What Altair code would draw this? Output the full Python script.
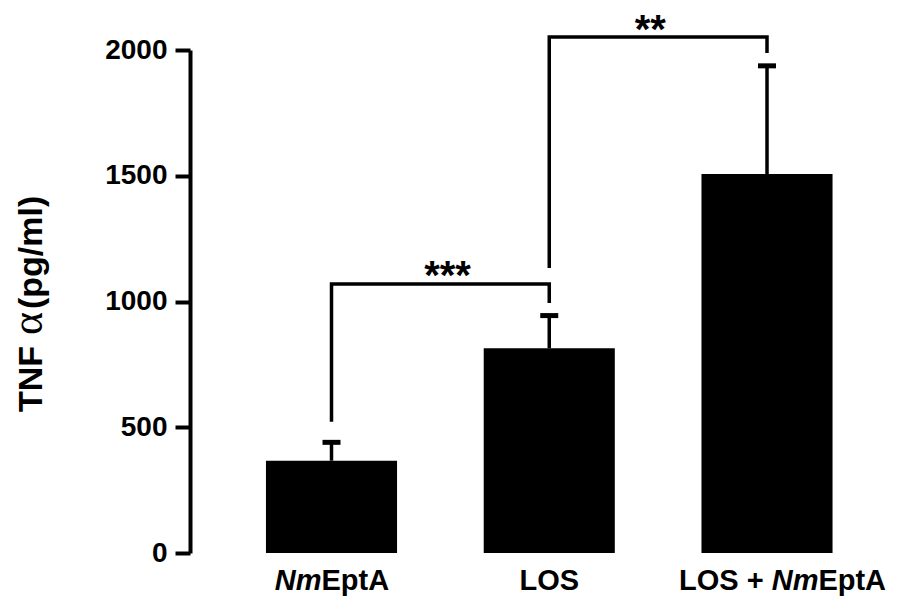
import altair as alt
import pandas as pd

# ---- data ----
groups = ["NmEptA", "LOS", "LOS + NmEptA"]
means = [367, 814, 1507]
upper = [440, 944, 1937]

br_id = [1, 1, 1, 1, 2, 2, 2, 2]
br_order = [0, 1, 2, 3, 0, 1, 2, 3]
br_group = ["NmEptA", "NmEptA", "LOS", "LOS", "LOS", "LOS", "LOS + NmEptA", "LOS + NmEptA"]
br_value = [522, 1070, 1070, 994, 1133, 2052, 2052, 1988]

star_text = ["***", "**"]
star_group = ["NmEptA", "LOS"]
star_value = [1048, 2028]

y_ticks = [0, 500, 1000, 1500, 2000]

W, H = 711, 503
FONT = "Liberation Sans"

bars_df = pd.DataFrame({"g": groups, "mean": means, "upper": upper})
br_df = pd.DataFrame({"id": br_id, "o": br_order, "g": br_group, "v": br_value})

xscale = alt.Scale(domain=groups, paddingInner=0.398, paddingOuter=0.3316, align=0.526)
yscale = alt.Scale(domain=[0, 2000], nice=False)

X = alt.X("g:N", scale=xscale, axis=alt.Axis(labels=False, ticks=False, title=None,
                                             domainColor="black", domainWidth=4.5))
Xn = alt.X("g:N", scale=xscale, axis=None)

bars = alt.Chart(bars_df).mark_bar(color="black").encode(
    x=X,
    y=alt.Y("mean:Q", scale=yscale, axis=alt.Axis(
        values=y_ticks, format="d", title=None, grid=False, domainColor="black", domainWidth=4,
        tickColor="black", tickWidth=4, tickSize=15, labelPadding=8,
        labelFont=FONT, labelFontSize=28, labelFontWeight="bold", labelColor="black")),
)

err = alt.Chart(bars_df).mark_rule(color="black", strokeWidth=3.5).encode(
    x=Xn, y=alt.Y("mean:Q", scale=yscale), y2="upper:Q")

caps = alt.Chart(bars_df).mark_tick(color="black", size=18, thickness=5, opacity=1).encode(
    x=Xn, y=alt.Y("upper:Q", scale=yscale))

brackets = alt.Chart(br_df).mark_line(color="black", strokeWidth=3.5, strokeJoin="miter").encode(
    x=Xn, y=alt.Y("v:Q", scale=yscale), detail="id:N", order="o:Q")


def star_layer(i, dx):
    d = pd.DataFrame({"g": [star_group[i]], "v": [star_value[i]], "t": [star_text[i]]})
    return alt.Chart(d).mark_text(font=FONT, fontWeight="bold", fontSize=40, color="black",
                                  align="center", baseline="alphabetic", dx=dx).encode(
        x=Xn, y=alt.Y("v:Q", scale=yscale), text="t:N")


def label_piece(g, t, align, dx, italic=False):
    d = pd.DataFrame({"g": [g], "t": [t]})
    return alt.Chart(d).mark_text(font=FONT, fontWeight="bold", fontSize=29, color="black",
                                  fontStyle="italic" if italic else "normal",
                                  align=align, baseline="alphabetic", dx=dx).encode(
        x=Xn, y=alt.value(H + 37), text="t:N")


def title_piece(t, y, align, font, weight, size):
    d = pd.DataFrame({"t": [t]})
    return alt.Chart(d).mark_text(font=font, fontWeight=weight, fontSize=size, color="black",
                                  angle=270, align=align, baseline="alphabetic").encode(
        x=alt.value(-148), y=alt.value(y), text="t:N")


layers = [
    bars, err, caps, brackets,
    star_layer(0, 116), star_layer(1, 101),
    label_piece("NmEptA", "Nm", "right", -10, True),
    label_piece("NmEptA", "EptA", "left", -10),
    label_piece("LOS", "LOS", "center", 0),
    label_piece("LOS + NmEptA", "LOS +", "right", -3.4),
    label_piece("LOS + NmEptA", "Nm", "left", 4.7, True),
    label_piece("LOS + NmEptA", "EptA", "left", 51.4),
    title_piece("TNF", 362, "left", FONT, "bold", 34),
    title_piece("\u03b1", 285, "left", "Liberation Serif", "normal", 44),
    title_piece("(pg/ml)", 259, "left", FONT, "bold", 34),
]

chart = alt.layer(*layers).properties(
    width=W, height=H,
    padding={"left": 190, "top": 50, "right": 0, "bottom": 46},
    autosize=alt.AutoSizeParams(type="none"),
    background="white",
).configure_view(stroke=None)

chart.save("out.html", embed_options={"renderer": "svg", "actions": False})
